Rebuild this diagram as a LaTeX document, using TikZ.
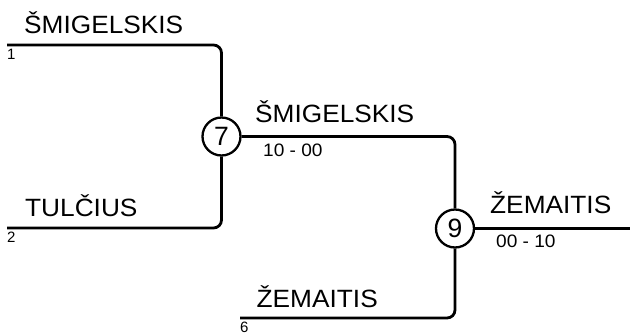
\documentclass[tikz,border=0pt]{standalone}
\usepackage{fontspec}
\setmainfont{Liberation Sans}
\newfontfamily\namefont[FakeStretch=1.05]{Liberation Sans}
\newfontfamily\scorefont[FakeStretch=1.06]{Liberation Sans}
\begin{document}
\begin{tikzpicture}[x=1pt,y=-1pt,
  wire/.style={line width=2.8pt,rounded corners=8pt},
  match/.style={circle,draw,line width=2.3pt,minimum size=38pt,inner sep=0pt,font=\fontsize{26.5}{26.5}\selectfont},
  namelab/.style={anchor=base west,inner sep=0pt,font=\namefont\fontsize{25}{25}\selectfont},
  scorelab/.style={anchor=base west,inner sep=0pt,font=\scorefont\fontsize{18}{18}\selectfont},
  seedlab/.style={anchor=base west,inner sep=0pt,font=\fontsize{15}{15}\selectfont}]
\useasboundingbox (0,0) rectangle (630,333);
\node[match] (c7) at (221.5,136.5) {7};
\node[match] (c9) at (455,228.5) {9};
\coordinate (s1) at (7,45);
\coordinate (s2) at (7,228);
\coordinate (s6) at (240,318);
\coordinate (w7) at (455,136.5);
\coordinate (out) at (630,228.5);
\draw[wire] (s1) -| (c7);
\draw[wire] (s2) -| (c7);
\draw[wire] (c7) -- (w7) -- (c9);
\draw[wire] (s6) -| (c9);
\draw[wire] (c9) -- (out);
\node[namelab] (n1) at (24,33.5) {ŠMIGELSKIS};
\node[seedlab] (d1) at (7,59) {1};
\node[namelab] (n2) at (25,216.5) {TULČIUS};
\node[seedlab] (d2) at (7,242) {2};
\node[namelab] (n7) at (255,122.5) {ŠMIGELSKIS};
\node[scorelab] (r7) at (263,156.5) {10 - 00};
\node[namelab] (n9) at (490,213.5) {ŽEMAITIS};
\node[scorelab] (r9) at (496,247.5) {00 - 10};
\node[namelab] (n6) at (256.5,307.5) {ŽEMAITIS};
\node[seedlab] (d6) at (240,332.3) {6};
\end{tikzpicture}
\end{document}
